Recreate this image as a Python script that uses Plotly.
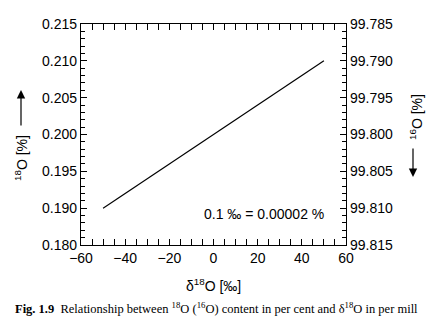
import plotly.graph_objects as go

# data
delta = [-50, 50]
o18 = [0.190, 0.210]
y_tickvals = [0.185, 0.190, 0.195, 0.200, 0.205, 0.210, 0.215]
y_ticktext = ["0.180", "0.190", "0.195", "0.200", "0.205", "0.210", "0.215"]
y2_tickvals = [99.785, 99.790, 99.795, 99.800, 99.805, 99.810, 99.815]
y2_ticktext = ["99.785", "99.790", "99.795", "99.800", "99.805", "99.810", "99.815"]
x_tickvals = [-60, -40, -20, 0, 20, 40, 60]

FONT = "Liberation Sans"
fig = go.Figure()
fig.add_trace(go.Scatter(x=delta, y=o18, mode="lines",
                         line=dict(color="black", width=1.2), showlegend=False))
# invisible trace for right axis
fig.add_trace(go.Scatter(x=[None], y=[None], yaxis="y2", showlegend=False))

axis_common = dict(showline=True, linecolor="black", linewidth=1.3, ticks="inside",
                   ticklen=6, tickwidth=1.2, tickcolor="black", showgrid=False,
                   zeroline=False, tickfont=dict(family=FONT, size=14, color="black"))

fig.update_layout(
    width=427, height=328,
    margin=dict(l=81, r=81, t=24, b=83),
    paper_bgcolor="white", plot_bgcolor="white",
    xaxis=dict(range=[-60, 60], tickvals=x_tickvals, mirror="allticks",
               minor=dict(dtick=5, ticks="inside", ticklen=3.5, tickwidth=1.2, tickcolor="black"),
               **axis_common),
    yaxis=dict(range=[0.185, 0.215], tickvals=y_tickvals, ticktext=y_ticktext,
               minor=dict(dtick=0.001, tick0=0.185, ticks="inside", ticklen=3.5, tickwidth=1.2, tickcolor="black"),
               **axis_common),
    yaxis2=dict(range=[99.815, 99.785], overlaying="y", side="right",
                tickvals=y2_tickvals, ticktext=y2_ticktext,
                minor=dict(dtick=0.001, tick0=99.785, ticks="inside", ticklen=3.5, tickwidth=1.2, tickcolor="black"),
                **axis_common),
)

def px_x(p):
    return (p - 81) / 265

def px_y(p):
    return (245 - p) / 221

ann = []
ann.append(dict(text="0.1 ‰ = 0.00002 %", x=23, y=0.1892, xref="x", yref="y",
                showarrow=False, font=dict(family=FONT, size=14, color="black")))
ann.append(dict(text="δ<sup>18</sup>O [‰]", x=px_x(213), y=px_y(285), xref="paper", yref="paper",
                showarrow=False, xanchor="center", yanchor="middle",
                font=dict(family=FONT, size=14, color="black")))
ann.append(dict(text="<sup>18</sup>O [%]", x=px_x(21), y=px_y(158), xref="paper", yref="paper",
                textangle=-90, showarrow=False, xanchor="center", yanchor="middle",
                font=dict(family=FONT, size=14, color="black")))
ann.append(dict(text="", x=px_x(21), y=px_y(90), xref="paper", yref="paper",
                showarrow=True, ax=0, ay=37, arrowhead=2, arrowsize=1.4, arrowwidth=1.2, arrowcolor="black"))
ann.append(dict(text="<sup>16</sup>O [%]", x=px_x(416), y=px_y(117), xref="paper", yref="paper",
                textangle=-90, showarrow=False, xanchor="center", yanchor="middle",
                font=dict(family=FONT, size=14, color="black")))
ann.append(dict(text="", x=px_x(413), y=px_y(177), xref="paper", yref="paper",
                showarrow=True, ax=0, ay=-30, arrowhead=2, arrowsize=1.4, arrowwidth=1.2, arrowcolor="black"))
ann.append(dict(text="<b>Fig. 1.9</b>  Relationship between <sup>18</sup>O (<sup>16</sup>O) content in per cent and δ<sup>18</sup>O in per mill",
                x=px_x(13), y=px_y(308), xref="paper", yref="paper", showarrow=False,
                xanchor="left", yanchor="middle",
                font=dict(family="Liberation Serif", size=12.5, color="black")))
fig.update_layout(annotations=ann)

fig.write_html("out.html")
